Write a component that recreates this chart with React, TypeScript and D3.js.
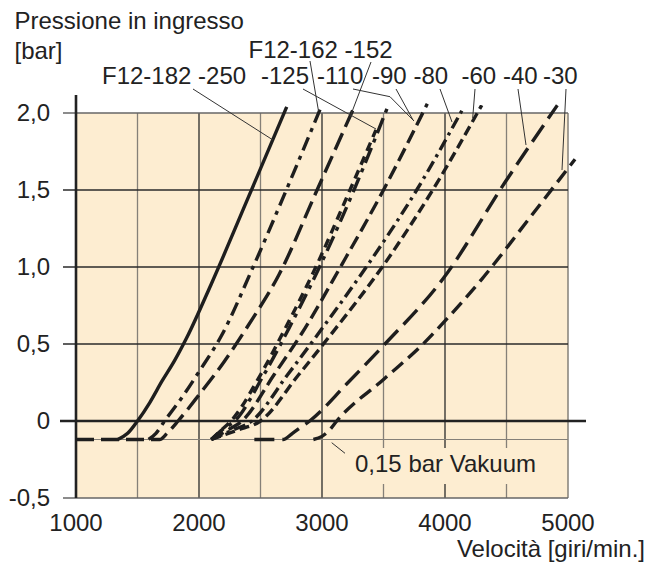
import React from 'react';
import * as d3 from 'd3';

// ---- data ----
const xTickValues = [1000, 2000, 3000, 4000, 5000];
const xGridValues = [1500, 2000, 2500, 3000, 3500, 4000, 4500];
const yTickValues = [2.0, 1.5, 1.0, 0.5, 0, -0.5];
const yTickLabels = ['2,0', '1,5', '1,0', '0,5', '0', '-0,5'];
const vacuumLevel = -0.12;

const c250: [number, number][] = [[1340, -0.12], [1420, -0.08], [1500, 0], [1600, 0.12], [1700, 0.26], [1800, 0.39], [1900, 0.54], [2100, 0.89], [2400, 1.45], [2713, 2.04]];
const c162: [number, number][] = [[1590, -0.12], [1650, -0.08], [1720, 0], [1850, 0.14], [2000, 0.32], [2180, 0.55], [2440, 1.0], [2710, 1.5], [2998, 2.05]];
const c152: [number, number][] = [[1000, -0.12], [1680, -0.12], [1740, -0.08], [1830, 0], [2000, 0.17], [2200, 0.38], [2400, 0.62], [2650, 0.95], [2960, 1.5], [3268, 2.05]];
const c125: [number, number][] = [[2100, -0.12], [2180, -0.06], [2260, 0], [2500, 0.3], [2700, 0.6], [2950, 1.0], [3200, 1.45], [3439, 1.89]];
const cX: [number, number][] = [[2100, -0.12], [2200, -0.05], [2290, 0], [2520, 0.29], [2730, 0.6], [2980, 1.0], [3260, 1.5], [3539, 2.05]];
const c110: [number, number][] = [[2100, -0.12], [2230, -0.06], [2350, 0], [2610, 0.3], [2860, 0.6], [3150, 1.0], [3500, 1.5], [3856, 2.06]];
const c80: [number, number][] = [[2100, -0.12], [2270, -0.06], [2430, 0], [2720, 0.3], [3000, 0.6], [3360, 1.0], [3770, 1.5], [4154, 2.04]];
const c60: [number, number][] = [[2100, -0.12], [2310, -0.06], [2500, 0], [2810, 0.3], [3110, 0.6], [3490, 1.0], [3900, 1.5], [4298, 2.05]];
const c40: [number, number][] = [[2450, -0.12], [2683, -0.12], [2760, -0.08], [2830, -0.04], [2900, 0], [3200, 0.24], [3500, 0.49], [3990, 0.93], [4488, 1.55], [4913, 2.05]];
const c30: [number, number][] = [[2930, -0.12], [3000, -0.1], [3060, -0.06], [3120, 0], [3500, 0.27], [3822, 0.5], [4000, 0.65], [4298, 0.92], [4680, 1.31], [5057, 1.7]];

const curves = [
  { id: '250', pts: c250, dash: '' },
  { id: '162', pts: c162, dash: '14,6,4,6' },
  { id: '152', pts: c152, dash: '18,7' },
  { id: '125', pts: c125, dash: '9,6' },
  { id: 'x', pts: cX, dash: '16,6,4,6' },
  { id: '110', pts: c110, dash: '14,6' },
  { id: '80', pts: c80, dash: '12,5,3,5' },
  { id: '60', pts: c60, dash: '10,5' },
  { id: '40', pts: c40, dash: '20,8' },
  { id: '30', pts: c30, dash: '14,7' },
];

const labels = [
  { text: 'F12-162 -152', x: 248.5, y: 58 },
  { text: 'F12-182 -250', x: 102, y: 84 },
  { text: '-125', x: 261, y: 84 },
  { text: '-110', x: 317, y: 84 },
  { text: '-90', x: 372, y: 84 },
  { text: '-80', x: 413.5, y: 84 },
  { text: '-60', x: 461.5, y: 84 },
  { text: '-40', x: 503, y: 84 },
  { text: '-30', x: 543, y: 84 },
];

const leaders: [number, number][][] = [
  [[193, 89], [273, 140]],
  [[310, 61], [318.5, 111]],
  [[371, 62], [350, 117]],
  [[303, 89], [376, 129]],
  [[353, 89], [390, 96.7], [414, 121]],
  [[396, 89], [413, 120]],
  [[440, 89], [452, 122]],
  [[475, 89], [472.7, 118]],
  [[518, 89], [526, 145]],
  [[566, 89], [562, 170]],
];

export default function App() {
  const W = 651, H = 563;
  const x = d3.scaleLinear().domain([1000, 5000]).range([76, 568]);
  const y = d3.scaleLinear().domain([-0.5, 2.0]).range([498, 113]);
  const line = d3.line<[number, number]>().x(d => x(d[0])).y(d => y(d[1])).curve(d3.curveMonotoneX);
  const lline = d3.line<[number, number]>().x(d => d[0]).y(d => d[1]);
  const font = "'Liberation Sans', Arial, Helvetica, sans-serif";
  const dark = '#2a2a2a';
  const grey = '#858078';
  const fs = 24;

  return (
    <svg width={W} height={H} style={{ position: 'absolute', left: 0, top: 0, background: '#fff' }} fontFamily={font}>
      <rect x={x(1000)} y={y(2)} width={x(5000) - x(1000)} height={y(-0.5) - y(2)} fill="#fdedd1" />
      {xGridValues.map(v => (
        <line key={'vg' + v} x1={x(v)} x2={x(v)} y1={y(2)} y2={y(-0.5)} stroke={v % 1000 === 0 ? dark : grey} strokeWidth={1.3} />
      ))}
      <line x1={x(5000)} x2={x(5000)} y1={y(2)} y2={y(-0.5)} stroke={grey} strokeWidth={1.5} />
      {yTickValues.filter(v => v !== 0).map(v => (
        <line key={'hg' + v} x1={63} x2={x(5000)} y1={y(v)} y2={y(v)} stroke={v === -0.5 || v === 2 ? '#666' : dark} strokeWidth={1.4} />
      ))}
      <line x1={x(1000)} x2={x(5000)} y1={y(vacuumLevel)} y2={y(vacuumLevel)} stroke={grey} strokeWidth={1.2} />
      <line x1={60} x2={586} y1={y(0)} y2={y(0)} stroke="#222" strokeWidth={2.6} />
      <line x1={x(1000)} x2={x(1000)} y1={95} y2={y(-0.5)} stroke="#222" strokeWidth={2.6} />
      <rect x={350} y={448} width={200} height={36} fill="#fdedd1" />
      <line x1={331.7} y1={442.7} x2={345} y2={453.3} stroke="#333" strokeWidth={1} />
      <text x={355} y={472} fontSize={fs} fill="#222">0,15 bar Vakuum</text>
      {curves.map(c => (
        <path key={c.id} d={line(c.pts) || ''} fill="none" stroke="#1e1e1e" strokeWidth={3.4} strokeDasharray={c.dash || undefined} strokeLinecap="butt" />
      ))}
      {leaders.map((l, i) => (
        <path key={'ld' + i} d={lline(l) || ''} fill="none" stroke="#333" strokeWidth={1} />
      ))}
      {yTickValues.map((v, i) => (
        <text key={'yl' + v} x={50} y={y(v) + 8} textAnchor="end" fontSize={fs} fill="#222">{yTickLabels[i]}</text>
      ))}
      {xTickValues.map(v => (
        <text key={'xl' + v} x={x(v)} y={531} textAnchor="middle" fontSize={fs} fill="#222">{v}</text>
      ))}
      <text x={645} y={557} textAnchor="end" fontSize={fs} fill="#222">Velocità [giri/min.]</text>
      <text x={14.5} y={29} fontSize={fs} fill="#222">Pressione in ingresso</text>
      <text x={14.5} y={59} fontSize={fs} fill="#222">[bar]</text>
      {labels.map(l => (
        <text key={l.text} x={l.x} y={l.y} fontSize={fs} fill="#222">{l.text}</text>
      ))}
    </svg>
  );
}
